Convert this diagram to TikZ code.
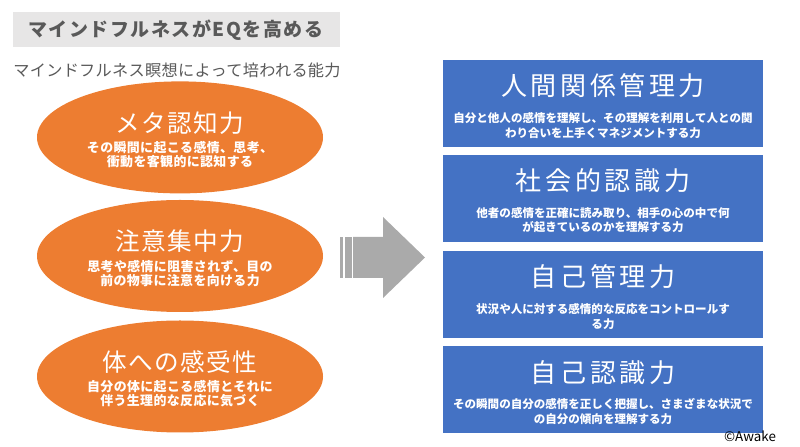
\documentclass[tikz,border=0pt]{standalone}
\usepackage{fontspec}
\setmainfont{Noto Sans CJK JP}
\usepackage{tikz}
\usetikzlibrary{positioning, shapes.geometric}
\definecolor{mforange}{HTML}{ED7D31}
\definecolor{mfblue}{HTML}{4472C4}
\definecolor{headgray}{HTML}{E7E6E6}
\definecolor{textgray}{HTML}{595959}
\definecolor{arrowgray}{HTML}{AAAAAA}

\begin{document}
\begin{tikzpicture}[
    oval/.style={ellipse, fill=mforange, minimum width=7.15cm, minimum height=2.8cm, inner sep=0pt},
    ovaltitle/.style={text=white, inner sep=0pt, font=\fontsize{17.5}{20}\selectfont\addfontfeatures{LetterSpace=6}},
    ovaldesc/.style={text=white, inner sep=0pt, align=center, font=\bfseries\fontsize{9.2}{9.8}\selectfont\addfontfeatures{LetterSpace=3}},
    skill/.style={fill=mfblue, minimum width=8cm, minimum height=2.175cm, inner sep=0pt},
    skilltitle/.style={text=white, inner sep=0pt, font=\fontsize{18.5}{21}\selectfont\addfontfeatures{LetterSpace=14}},
    skilldesc/.style={text=white, inner sep=0pt, align=center, font=\bfseries\fontsize{8.2}{10.4}\selectfont}
]
\useasboundingbox (0,0) rectangle (20,11.175);

% heading
\node[fill=headgray, minimum width=8.175cm, minimum height=0.875cm, inner sep=0pt] (head) at (4.41,10.44) {};
\node[text=textgray, inner sep=0pt, font=\bfseries\fontsize{13.5}{15}\selectfont\addfontfeatures{LetterSpace=8}] (headT) at (4.39,10.43) {マインドフルネスがEQを高める};
\node[anchor=west, text=textgray, inner sep=0pt, font=\fontsize{11.5}{13}\selectfont\addfontfeatures{LetterSpace=2}] (sub) at (0.325,9.425) {マインドフルネス瞑想によって培われる能力};

% ovals on the left
\node[oval] (meta) at (4.5,7.74) {};
\node[ovaltitle] (metaT) at ([yshift=0.36cm]meta.center) {メタ認知力};
\node[ovaldesc]  (metaD) at ([yshift=-0.43cm]meta.center) {その瞬間に起こる感情、思考、\\衝動を客観的に認知する};

\node[oval] (focus) at (4.5,4.775) {};
\node[ovaltitle] (focusT) at ([yshift=0.36cm]focus.center) {注意集中力};
\node[ovaldesc]  (focusD) at ([yshift=-0.43cm]focus.center) {思考や感情に阻害されず、目の\\前の物事に注意を向ける力};

\node[oval] (body) at (4.5,1.7625) {};
\node[ovaltitle] (bodyT) at ([yshift=0.36cm]body.center) {体への感受性};
\node[ovaldesc]  (bodyD) at ([yshift=-0.43cm]body.center) {自分の体に起こる感情とそれに\\伴う生理的な反応に気づく};

% big arrow
\fill[arrowgray] (8.5,4.225) rectangle (8.575,5.25);
\fill[arrowgray] (8.625,4.225) rectangle (8.8,5.25);
\fill[arrowgray] (8.825,4.225) -- (9.575,4.225) -- (9.575,3.725) -- (10.625,4.7375)
    -- (9.575,5.75) -- (9.575,5.25) -- (8.825,5.25) -- cycle;

% boxes on the right
\node[skill] (rel) at (15.075,8.5875) {};
\node[skilltitle] (relT) at ([yshift=0.44cm]rel.center) {人間関係管理力};
\node[skilldesc]  (relD) at ([yshift=-0.545cm]rel.center) {自分と他人の感情を理解し、その理解を利用して人との関\\わり合いを上手くマネジメントする力};

\node[skill] (soc) at (15.075,6.2125) {};
\node[skilltitle] (socT) at ([yshift=0.44cm]soc.center) {社会的認識力};
\node[skilldesc]  (socD) at ([yshift=-0.545cm]soc.center) {他者の感情を正確に読み取り、相手の心の中で何\\が起きているのかを理解する力};

\node[skill] (selfm) at (15.075,3.8125) {};
\node[skilltitle] (selfmT) at ([yshift=0.44cm]selfm.center) {自己管理力};
\node[skilldesc]  (selfmD) at ([yshift=-0.545cm]selfm.center) {状況や人に対する感情的な反応をコントロールす\\る力};

\node[skill] (selfa) at (15.075,1.425) {};
\node[skilltitle] (selfaT) at ([yshift=0.44cm]selfa.center) {自己認識力};
\node[skilldesc]  (selfaD) at ([yshift=-0.545cm]selfa.center) {その瞬間の自分の感情を正しく把握し、さまざまな状況で\\の自分の傾向を理解する力};

\node[inner sep=0pt, font=\fontsize{9.5}{11}\selectfont] (credit) at (18.75,0.26) {©Awake};
\end{tikzpicture}
\end{document}
